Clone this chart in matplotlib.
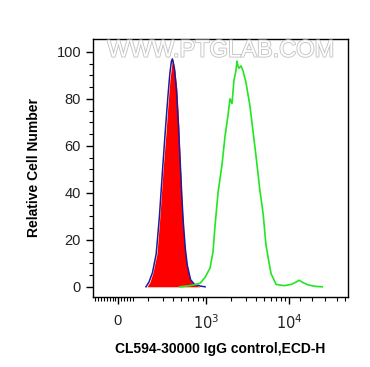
import matplotlib.pyplot as plt
import matplotlib.patheffects as pe

plt.rcParams['font.family'] = ['Liberation Sans', 'DejaVu Sans']

# x values are in display channels (0-1024 biexponential scale)
isotype_x = [217, 229, 241, 257, 269, 281, 293, 301, 309, 317, 321, 329, 337, 345,
             349, 357, 361, 369, 377, 390, 406, 430]
isotype_y = [0, 2, 6, 14, 30, 49, 65, 77, 88, 95, 97, 92, 84, 68,
             56, 38, 28, 17, 10, 3, 1, 0]

blank_x = [213, 225, 239, 254, 267, 279, 291, 301, 309, 315, 319, 327, 335, 343,
           349, 357, 363, 371, 379, 392, 408, 432, 450]
blank_y = [0, 2, 6, 14, 30, 49, 67, 81, 91, 96, 97, 93, 84, 69,
           56, 38, 27, 16, 9, 3, 1, 0.3, 0]

stained_x = [349, 390, 410, 430, 450, 470, 482, 490, 502, 518, 530, 542, 550, 558,
             566, 574, 578, 582, 586, 594, 602, 614, 630, 654, 670, 683, 694, 707,
             715, 735, 767, 795, 815, 827, 843, 863, 891, 920]
stained_y = [0, 0.5, 1, 1.5, 4, 8, 15, 26, 40, 52, 64, 73, 80, 78,
             88, 92, 96, 94, 93, 94, 92, 87, 77, 56, 41, 31, 18, 10,
             5.5, 1, 0.5, 1, 2, 2.8, 1.8, 0.8, 0.2, 0]

major_ticks = [100, 454, 787]
major_labels = ['0', '$10^3$', '$10^4$']
minor_ticks = [8, 20, 32, 44, 56, 68, 80, 88, 112, 124, 136, 148, 161,
               221, 281, 321, 353, 381, 402, 422, 442,
               554, 613, 655, 687, 713, 736, 755, 772,
               831, 879, 932, 980, 1012]

fig = plt.figure(figsize=(3.7, 3.67), dpi=100)
ax = fig.add_axes([0.251, 0.191, 0.69, 0.703])

ax.fill_between(isotype_x, isotype_y, color='#ff0000', lw=0)
ax.plot(blank_x, blank_y, color='#1c1c9c', lw=1.1)
ax.plot(stained_x, stained_y, color='#22e622', lw=1.2)

ax.set_xlim(0, 1024)
ax.set_ylim(-4.3, 105.5)
ax.set_xticks(major_ticks)
ax.set_xticklabels(major_labels)
ax.set_xticks(minor_ticks, minor=True)
ax.set_yticks([0, 20, 40, 60, 80, 100])
ax.set_yticks(list(range(0, 101, 5)), minor=True)
ax.tick_params(which='major', length=5, width=1, labelsize=10.5, colors='black',
               labelcolor='#222222')
ax.tick_params(which='minor', length=3, width=0.8)
ax.tick_params(axis='x', which='major', pad=7)
for s in ax.spines.values():
    s.set_linewidth(1)

ax.set_ylabel('Relative Cell Number', fontsize=10, fontweight='bold', labelpad=11)
ax.set_xlabel('CL594-30000 IgG control,ECD-H', fontsize=10, fontweight='bold', labelpad=7)

ax.text(512, 100.5, 'WWW.PTGLAB.COM', fontsize=17, color='white', ha='center',
        va='center', path_effects=[pe.withStroke(linewidth=1.3, foreground='#c4c4c4')])

fig.savefig('out.png', dpi=100)
